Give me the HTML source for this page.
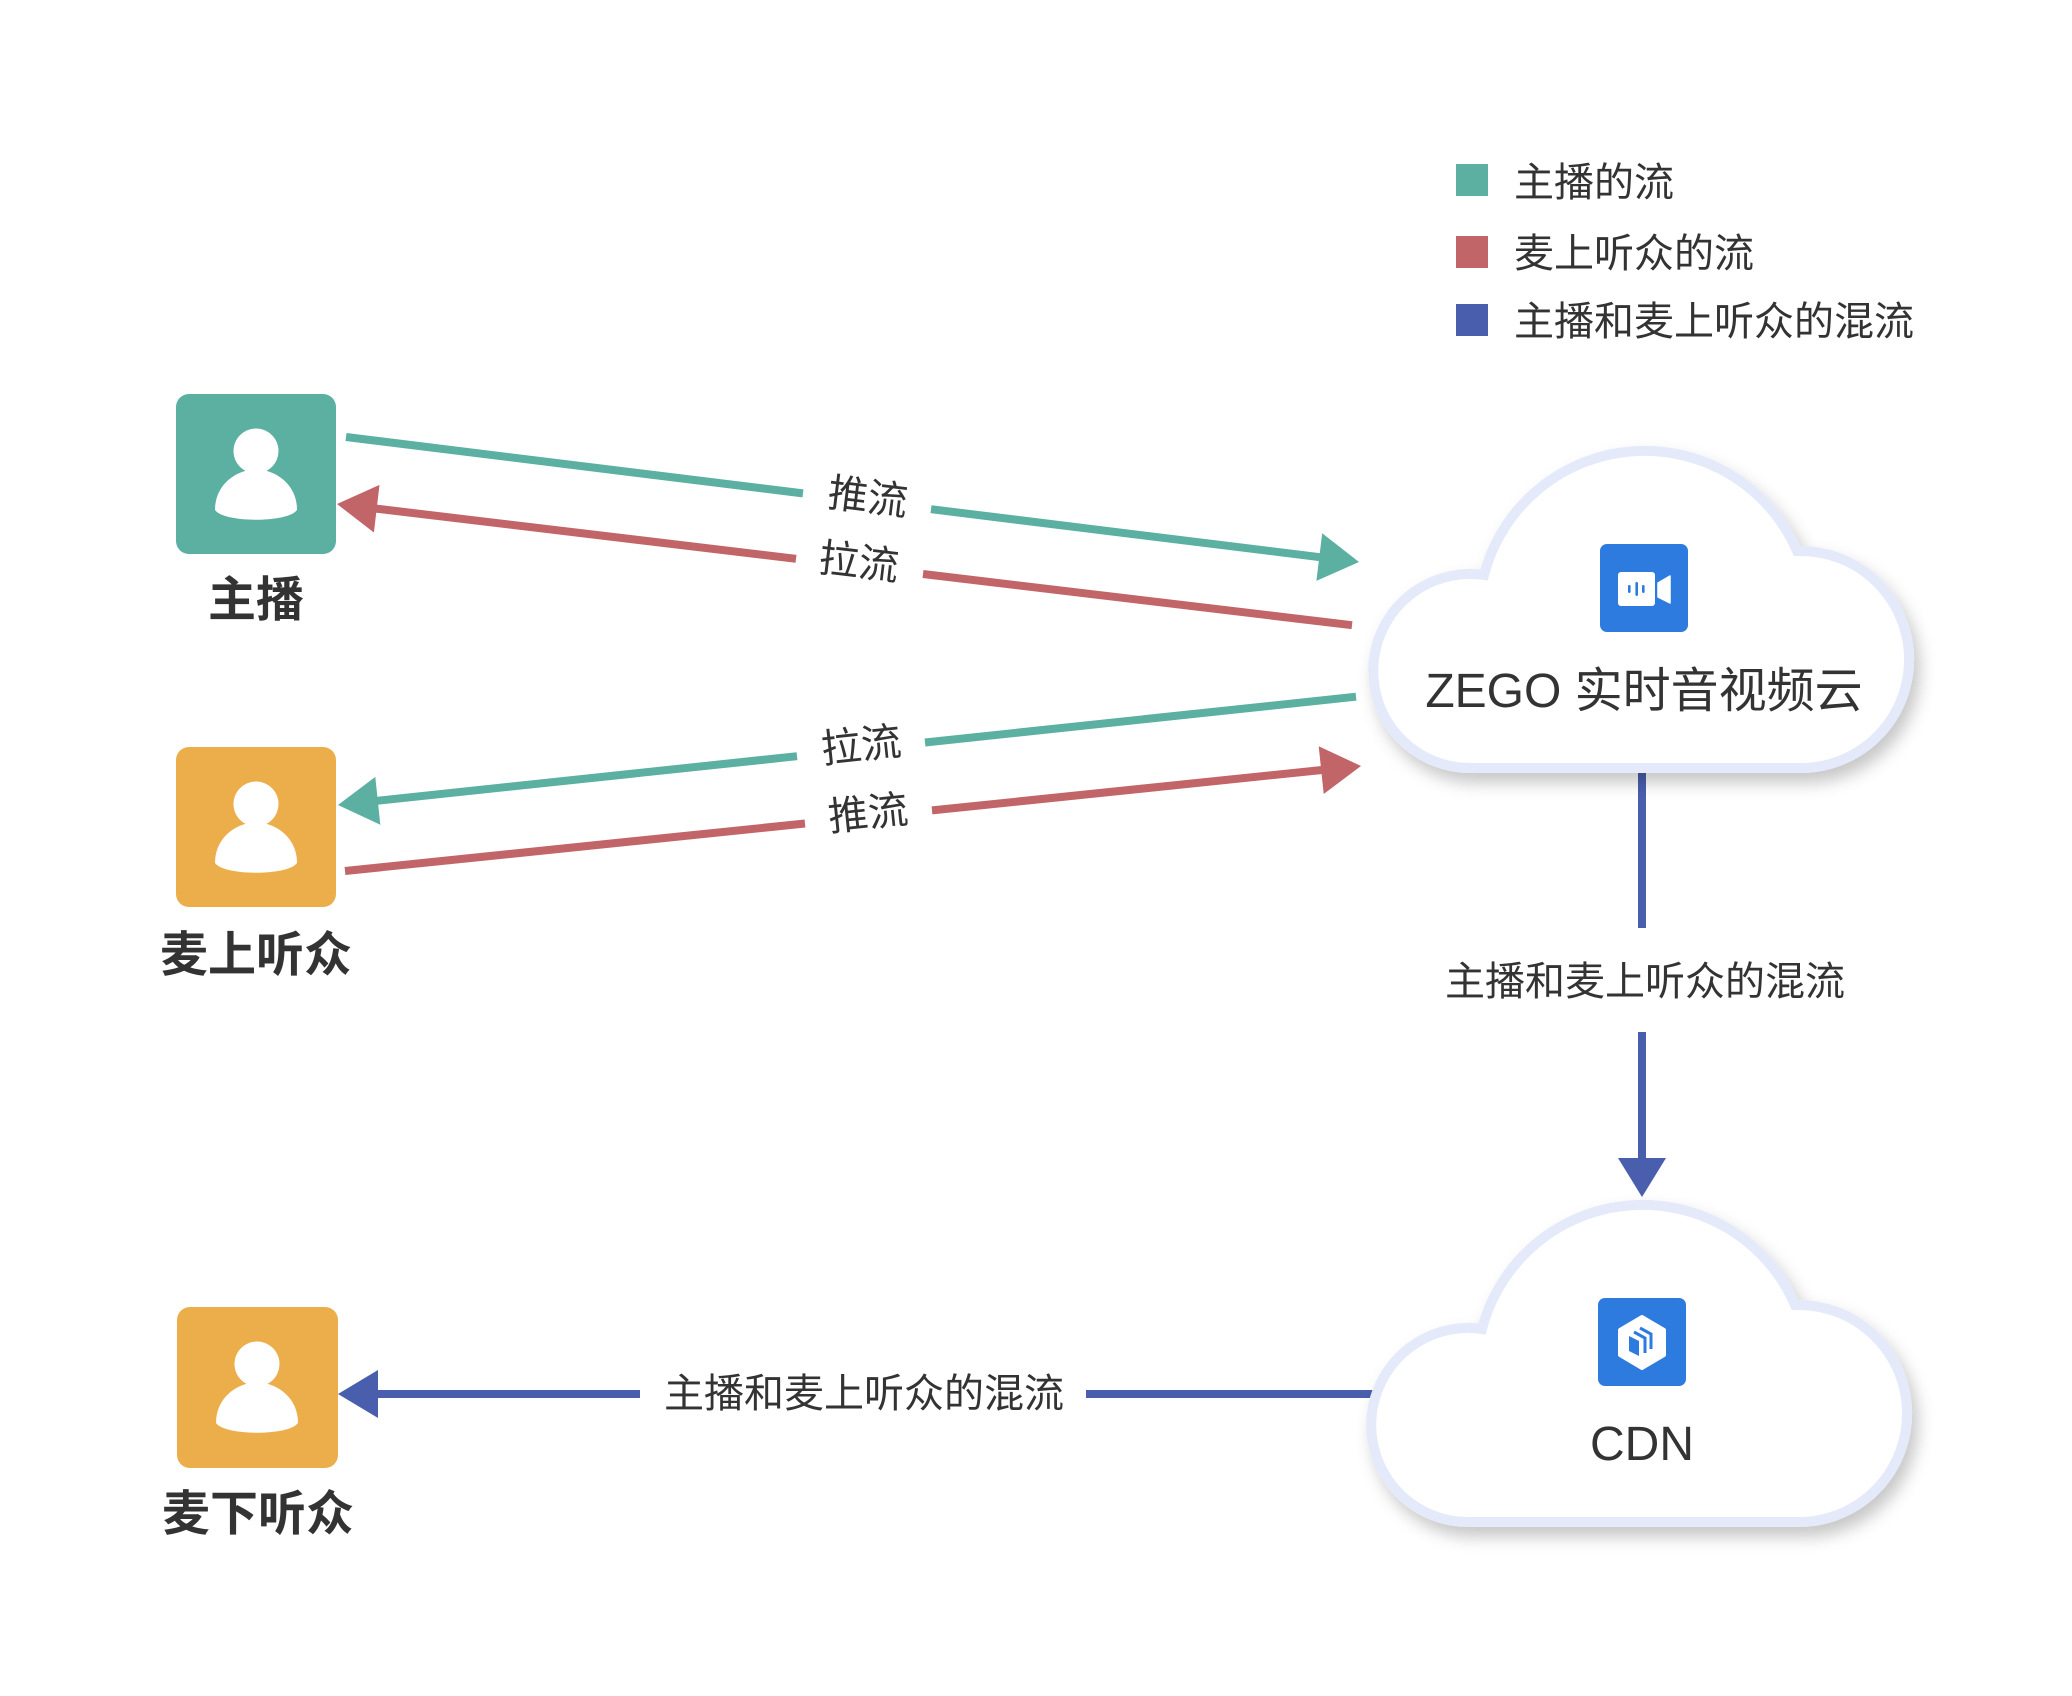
<!DOCTYPE html>
<html>
<head>
<meta charset="utf-8">
<style>
  html, body { margin: 0; padding: 0; background: #ffffff; }
  body { width: 2072px; height: 1696px; overflow: hidden; }
  svg { display: block; }
  text { font-family: "Liberation Sans", "Noto Sans CJK SC", sans-serif; fill: #333333; }
  .lbl { font-size: 40px; }
  .node { font-size: 48px; font-weight: bold; }
  .cloudt { font-size: 48px; }
</style>
</head>
<body>
<svg width="2072" height="1696" viewBox="0 0 2072 1696" xmlns="http://www.w3.org/2000/svg">
  <defs>
    <filter id="sh" x="-20%" y="-20%" width="150%" height="160%">
      <feDropShadow dx="6" dy="10" stdDeviation="8" flood-color="#000000" flood-opacity="0.22"/>
    </filter>
    <g id="person">
      <circle cx="80" cy="57" r="22.5" fill="#ffffff"/>
      <path d="M39,116 C39,96 52,82 69,77 L91,77 C108,82 121,96 121,116 C112,129 48,129 39,116 Z" fill="#ffffff"/>
    </g>
    <path id="cloud" d="M1804,768 L1472,768 A97,97 0 1 1 1484,575 A166,166 0 0 1 1797,551 A108,108 0 1 1 1804,768 Z"/>
  </defs>

  <rect x="0" y="0" width="2072" height="1696" fill="#ffffff"/>

  <!-- Legend -->
  <rect x="1456" y="164" width="32" height="32" fill="#5BB0A2"/>
  <rect x="1456" y="236" width="32" height="32" fill="#C16569"/>
  <rect x="1456" y="304" width="32" height="32" fill="#4A5EAE"/>
  <text class="lbl" x="1514" y="196">主播的流</text>
  <text class="lbl" x="1514" y="267">麦上听众的流</text>
  <text class="lbl" x="1514" y="335">主播和麦上听众的混流</text>

  <!-- Connectors -->
  <g stroke-width="8" fill="none" stroke-linecap="butt">
    <!-- green top: 主播 -> ZEGO (推流) -->
    <line x1="346" y1="437" x2="803" y2="493.4" stroke="#5BB0A2"/>
    <line x1="931" y1="509.2" x2="1321" y2="557.3" stroke="#5BB0A2"/>
    <!-- red upper: ZEGO -> 主播 (拉流) -->
    <line x1="1352" y1="625.2" x2="923" y2="574" stroke="#C16569"/>
    <line x1="796" y1="558.8" x2="376" y2="508.6" stroke="#C16569"/>
    <!-- green lower: ZEGO -> 麦上听众 (拉流) -->
    <line x1="1356" y1="696.7" x2="925" y2="742.5" stroke="#5BB0A2"/>
    <line x1="797" y1="756.2" x2="377" y2="800.8" stroke="#5BB0A2"/>
    <!-- red lower: 麦上听众 -> ZEGO (推流) -->
    <line x1="345" y1="871" x2="805" y2="823.5" stroke="#C16569"/>
    <line x1="932" y1="810.4" x2="1322" y2="770" stroke="#C16569"/>
    <!-- blue vertical -->
    <line x1="1642" y1="770" x2="1642" y2="928" stroke="#4A5EAE"/>
    <line x1="1642" y1="1032" x2="1642" y2="1160" stroke="#4A5EAE"/>
    <!-- blue horizontal -->
    <line x1="1380" y1="1394" x2="1086" y2="1394" stroke="#4A5EAE"/>
    <line x1="640" y1="1394" x2="376" y2="1394" stroke="#4A5EAE"/>
  </g>

  <!-- Arrowheads -->
  <polygon points="1359,562 1316.4,580.9 1322.2,533.3" fill="#5BB0A2"/>
  <polygon points="337,504 373.9,532.5 379.5,484.9" fill="#C16569"/>
  <polygon points="338,805 375.3,776.9 380.3,824.7" fill="#5BB0A2"/>
  <polygon points="1361,766 1323.7,794 1318.7,746.2" fill="#C16569"/>
  <polygon points="1618,1158 1666,1158 1642,1197" fill="#4A5EAE"/>
  <polygon points="338,1394 378,1370 378,1418" fill="#4A5EAE"/>

  <!-- Connector labels -->
  <g transform="translate(868,496) rotate(7)"><text class="lbl" x="0" y="15" text-anchor="middle">推流</text></g>
  <g transform="translate(859,561) rotate(6.8)"><text class="lbl" x="0" y="15" text-anchor="middle">拉流</text></g>
  <g transform="translate(861,744) rotate(-6)"><text class="lbl" x="0" y="15" text-anchor="middle">拉流</text></g>
  <g transform="translate(868,812) rotate(-5.9)"><text class="lbl" x="0" y="15" text-anchor="middle">推流</text></g>
  <text class="lbl" x="1645" y="995" text-anchor="middle">主播和麦上听众的混流</text>
  <text class="lbl" x="864" y="1407" text-anchor="middle">主播和麦上听众的混流</text>

  <!-- Person nodes -->
  <g transform="translate(176,394)">
    <rect x="0" y="0" width="160" height="160" rx="13" fill="#5BB0A2"/>
    <use href="#person"/>
  </g>
  <text class="node" x="256" y="616" text-anchor="middle">主播</text>

  <g transform="translate(176,747)">
    <rect x="0" y="0" width="160" height="160" rx="13" fill="#ECAE4A"/>
    <use href="#person"/>
  </g>
  <text class="node" x="256" y="971" text-anchor="middle">麦上听众</text>

  <g transform="translate(177,1307)">
    <rect x="0" y="0" width="161" height="161" rx="13" fill="#ECAE4A"/>
    <use href="#person"/>
  </g>
  <text class="node" x="258" y="1530" text-anchor="middle">麦下听众</text>

  <!-- ZEGO cloud -->
  <g filter="url(#sh)">
    <use href="#cloud" fill="#ffffff" stroke="#E4EAFA" stroke-width="10" stroke-linejoin="miter"/>
  </g>
  <rect x="1600" y="544" width="88" height="88" rx="7" fill="#2E7BE0"/>
  <rect x="1618" y="572" width="37" height="34" rx="3" fill="#ffffff"/>
  <polygon points="1658,583 1670,576 1670,603 1658,597" fill="#ffffff" stroke="#ffffff" stroke-width="1.5" stroke-linejoin="round"/>
  <rect x="1628" y="585" width="2.6" height="8" rx="1.2" fill="#2E7BE0"/>
  <rect x="1635.4" y="582" width="2.6" height="14" rx="1.2" fill="#2E7BE0"/>
  <rect x="1642" y="585" width="2.6" height="8" rx="1.2" fill="#2E7BE0"/>
  <text class="cloudt" x="1644" y="707" text-anchor="middle">ZEGO 实时音视频云</text>

  <!-- CDN cloud -->
  <g transform="translate(-2,754)" filter="url(#sh)">
    <use href="#cloud" fill="#ffffff" stroke="#E4EAFA" stroke-width="10" stroke-linejoin="miter"/>
  </g>
  <rect x="1598" y="1298" width="88" height="88" rx="7" fill="#2E7BE0"/>
  <polygon points="1642,1317 1664,1330 1664,1355 1642,1368 1620,1355 1620,1330" fill="#ffffff" stroke="#ffffff" stroke-width="4" stroke-linejoin="round"/>
  <polygon points="1629,1336 1639,1341 1639,1356 1629,1351" fill="#2E7BE0"/>
  <polyline points="1634,1332 1645,1338 1645,1353" fill="none" stroke="#2E7BE0" stroke-width="3"/>
  <polyline points="1640,1328 1651,1334 1651,1349" fill="none" stroke="#2E7BE0" stroke-width="3"/>
  <text class="cloudt" x="1642" y="1460" text-anchor="middle">CDN</text>
</svg>
</body>
</html>
